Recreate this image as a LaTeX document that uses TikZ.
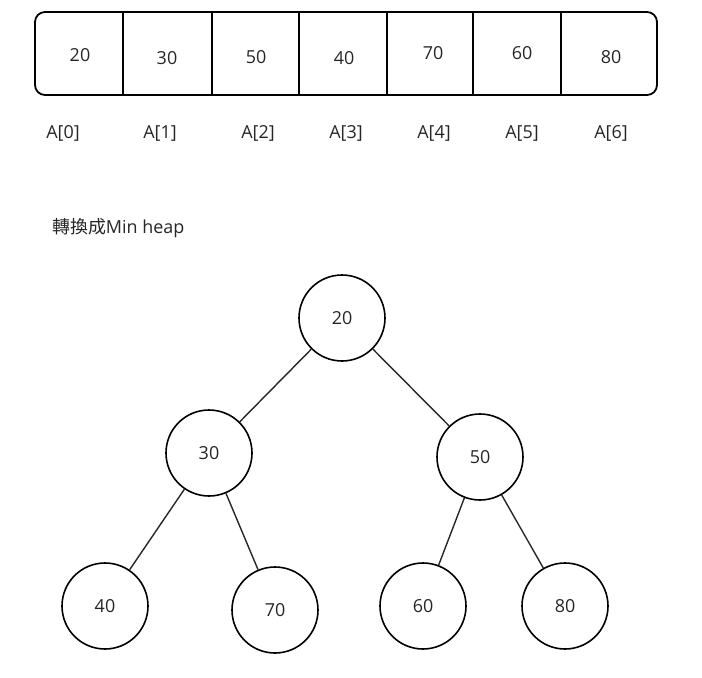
\documentclass[tikz,border=0pt]{standalone}
\usepackage{fontspec}
\setmainfont{Open Sans}
\newfontfamily\cjk{Noto Sans CJK TC}
\begin{document}
\begin{tikzpicture}[x=1bp, y=-1bp]
            \tikzstyle{cell} = [font=\fontsize{18}{20}\selectfont, text=black!85]
            \tikzstyle{idx} = [font=\fontsize{18}{20}\selectfont, text=black!85]
            \tikzstyle{heap} = [draw, line width=1.6bp, circle, minimum size=86bp, inner sep=0pt, font=\fontsize{18}{20}\selectfont, text=black!85]
            \tikzstyle{edge} = [line width=1.4bp, black!85]
            \useasboundingbox (0,0) rectangle (702,678);

            % Array
            \draw[line width=1.8bp, rounded corners=10bp] (35,12) rectangle (657,95);
            \foreach \x in {123,212,299,387,473,561}
                \draw[line width=1.4bp] (\x,12) -- (\x,96);
            \node[cell] (a0) at (80,55) {20};
            \node[cell] (a1) at (167,58) {30};
            \node[cell] (a2) at (256,57) {50};
            \node[cell] (a3) at (344,58) {40};
            \node[cell] (a4) at (433,53) {70};
            \node[cell] (a5) at (522,53) {60};
            \node[cell] (a6) at (611,57) {80};

            % Labels
            \node[idx] (l0) at (63,133) {A[0]};
            \node[idx] (l1) at (160,133) {A[1]};
            \node[idx] (l2) at (258,133) {A[2]};
            \node[idx] (l3) at (346,133) {A[3]};
            \node[idx] (l4) at (434,133) {A[4]};
            \node[idx] (l5) at (522,133) {A[5]};
            \node[idx] (l6) at (611,133) {A[6]};

            \node[idx, anchor=west, inner sep=0pt] (title) at (52,228) {{\cjk 轉換成}Min heap};

            % Heap
            \node[heap] (h20) at (342,318) {20};
            \node[heap] (h30) at (209,453) {30};
            \node[heap] (h50) at (480,457) {50};
            \node[heap] (h40) at (105,606) {40};
            \node[heap] (h70) at (275,610) {70};
            \node[heap] (h60) at (423,606) {60};
            \node[heap] (h80) at (565,606) {80};

            % Edges
            \draw[edge] (h20) -- (h30);
            \draw[edge] (h20) -- (h50);
            \draw[edge] (h30) -- (h40);
            \draw[edge] (h30) -- (h70);
            \draw[edge] (h50) -- (h60);
            \draw[edge] (h50) -- (h80);
        \end{tikzpicture}
\end{document}
